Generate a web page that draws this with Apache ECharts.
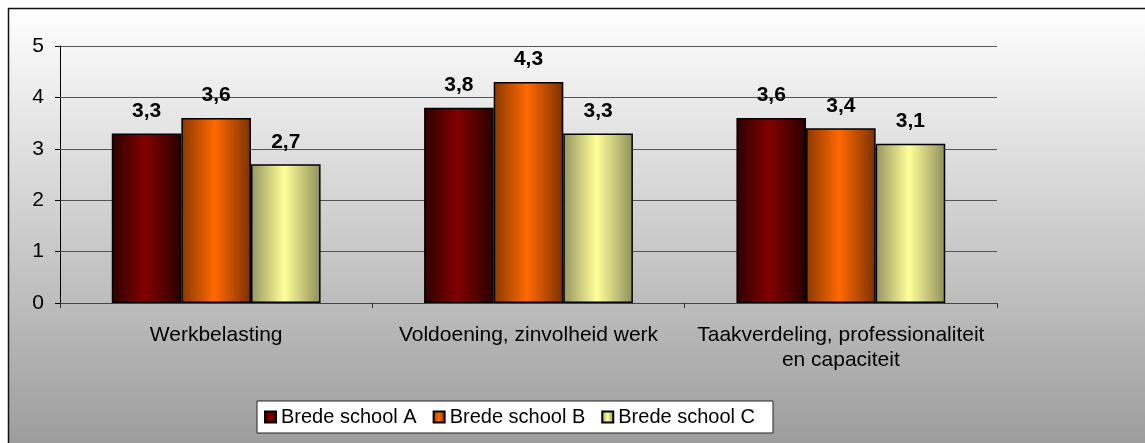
<!DOCTYPE html>
<html>
<head>
<meta charset="utf-8">
<script src="https://cdn.jsdelivr.net/npm/echarts@6/dist/echarts.min.js"></script>
<style>
  html, body { margin: 0; padding: 0; background: #fff; }
  #main { width: 1145px; height: 443px; }
</style>
</head>
<body>
<div id="main"></div>
<script>
const categories = ['Werkbelasting', 'Voldoening, zinvolheid werk', 'Taakverdeling, professionaliteit\nen capaciteit'];
const seriesNames = ['Brede school A', 'Brede school B', 'Brede school C'];
const schoolA = [3.3, 3.8, 3.6];
const schoolB = [3.6, 4.3, 3.4];
const schoolC = [2.7, 3.3, 3.1];
const yTicks = [0, 1, 2, 3, 4, 5];

// bar shading: dark edges, bright middle
const shades = [
  ['#2e0000', '#820000', '#2a0000'],
  ['#8a3800', '#ff6a00', '#7a3000'],
  ['#949462', '#ffff99', '#8f8f5c']
];

function grad(c) {
  return new echarts.graphic.LinearGradient(0, 0, 1, 0, [
    {offset: 0, color: c[0]},
    {offset: 0.48, color: c[1]},
    {offset: 1, color: c[2]}
  ]);
}

const myChart = echarts.init(document.getElementById('main'));

const font = 'Arial, "Liberation Sans", sans-serif';

const makeSeries = (name, data, i) => ({
  name: name,
  type: 'bar',
  data: data,
  barWidth: 69.6,
  barGap: '0%',
  itemStyle: {
    color: grad(shades[i]),
    borderColor: '#000',
    borderWidth: 1.5
  },
  label: {
    show: true,
    position: 'top',
    distance: 12,
    fontFamily: font,
    fontSize: 21,
    fontWeight: 'bold',
    color: '#000',
    formatter: p => String(p.value).replace('.', ',')
  }
});

const option = {
  animation: false,
  textStyle: {fontFamily: font},
  graphic: [{
    type: 'rect',
    z: -10,
    silent: true,
    shape: {x: 8.5, y: 8.5, width: 1150, height: 450},
    style: {
      fill: new echarts.graphic.LinearGradient(0, 0, 0, 1, [
        {offset: 0, color: '#ffffff'},
        {offset: 1, color: '#999999'}
      ]),
      stroke: '#111',
      lineWidth: 1.5
    }
  }],
  grid: {left: 60, right: 148, top: 46, bottom: 140, containLabel: false},
  legend: {
    data: seriesNames,
    left: 257,
    top: 401,
    orient: 'horizontal',
    itemWidth: 11,
    itemHeight: 11,
    itemGap: 16,
    padding: [6, 18, 6, 7],
    backgroundColor: '#fff',
    borderColor: '#222',
    borderWidth: 1,
    textStyle: {fontFamily: font, fontSize: 20, color: '#000'},
    icon: 'rect'
  },
  xAxis: {
    type: 'category',
    data: categories,
    axisLine: {lineStyle: {color: '#444', width: 1}},
    axisTick: {show: true, length: 5, lineStyle: {color: '#333'}},
    axisLabel: {
      interval: 0,
      hideOverlap: false,
      fontFamily: font,
      fontSize: 21,
      color: '#000',
      margin: 20,
      lineHeight: 25,
      align: 'center'
    }
  },
  yAxis: {
    type: 'value',
    min: yTicks[0],
    max: yTicks[yTicks.length - 1],
    interval: 1,
    axisLine: {show: true, lineStyle: {color: '#000', width: 1}},
    axisTick: {show: true, length: 5, lineStyle: {color: '#000'}},
    axisLabel: {fontFamily: font, fontSize: 21, color: '#000', margin: 16},
    splitLine: {lineStyle: {color: '#555', width: 1}}
  },
  series: [
    makeSeries(seriesNames[0], schoolA, 0),
    makeSeries(seriesNames[1], schoolB, 1),
    makeSeries(seriesNames[2], schoolC, 2)
  ]
};

myChart.setOption(option);
</script>
</body>
</html>
